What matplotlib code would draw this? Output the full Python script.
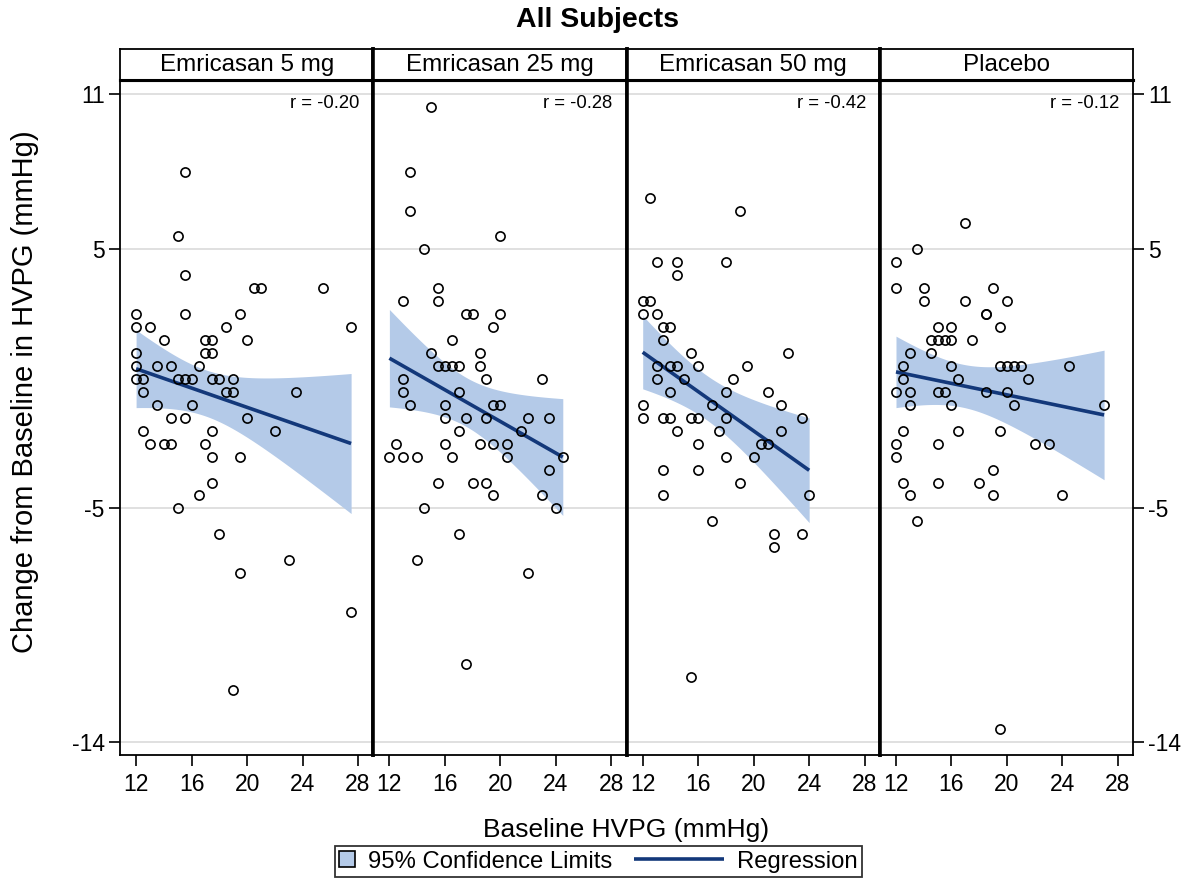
import numpy as np
import matplotlib
matplotlib.use("Agg")
import matplotlib.pyplot as plt
from matplotlib.patches import Patch, Rectangle
from matplotlib.lines import Line2D
from matplotlib.legend_handler import HandlerPatch, HandlerBase

plt.rcParams['font.family'] = ['Liberation Sans', 'DejaVu Sans']
plt.rcParams['axes.unicode_minus'] = False

# ---------------- data ----------------
panel_titles = ["Emricasan 5 mg", "Emricasan 25 mg", "Emricasan 50 mg", "Placebo"]
r_labels = ["r = -0.20", "r = -0.28", "r = -0.42", "r = -0.12"]

x_5mg = [15.5, 15.0, 15.5, 20.5, 21.0, 25.5, 12.0, 15.5, 19.5, 12.0, 13.0, 18.5, 27.5, 14.0, 17.0, 17.5,
         20.0, 12.0, 17.0, 17.5, 12.0, 13.5, 14.5, 16.5, 12.0, 12.5, 15.0, 15.5, 16.0, 17.5, 18.0, 19.0,
         12.5, 18.5, 19.0, 23.5, 13.5, 16.0, 14.5, 15.5, 20.0, 12.5, 17.5, 22.0, 13.0, 14.0, 14.5, 17.0,
         17.5, 19.5, 17.5, 16.5, 15.0, 18.0, 23.0, 19.5, 27.5, 19.0]
y_5mg = [8.0, 5.5, 4.0, 3.5, 3.5, 3.5, 2.5, 2.5, 2.5, 2.0, 2.0, 2.0, 2.0, 1.5, 1.5, 1.5,
         1.5, 1.0, 1.0, 1.0, 0.5, 0.5, 0.5, 0.5, 0.0, 0.0, 0.0, 0.0, 0.0, 0.0, 0.0, 0.0,
         -0.5, -0.5, -0.5, -0.5, -1.0, -1.0, -1.5, -1.5, -1.5, -2.0, -2.0, -2.0, -2.5, -2.5, -2.5, -2.5,
         -3.0, -3.0, -4.0, -4.5, -5.0, -6.0, -7.0, -7.5, -9.0, -12.0]

x_25mg = [15.0, 13.5, 13.5, 20.0, 14.5, 15.5, 13.0, 15.5, 17.5, 18.0, 20.0, 19.5, 16.5, 15.0, 18.5,
          15.5, 16.0, 16.5, 17.0, 18.5, 13.0, 19.0, 23.0, 13.0, 17.0, 13.5, 16.0, 19.5, 20.0, 16.0,
          17.5, 19.0, 22.0, 23.5, 17.0, 21.5, 12.5, 16.0, 18.5, 19.5, 20.5, 12.0, 13.0, 14.0, 16.5,
          20.5, 24.5, 23.5, 15.5, 18.0, 19.0, 19.5, 23.0, 14.5, 24.0, 17.0, 14.0, 22.0, 17.5]
y_25mg = [10.5, 8.0, 6.5, 5.5, 5.0, 3.5, 3.0, 3.0, 2.5, 2.5, 2.5, 2.0, 1.5, 1.0, 1.0,
          0.5, 0.5, 0.5, 0.5, 0.5, 0.0, 0.0, 0.0, -0.5, -0.5, -1.0, -1.0, -1.0, -1.0, -1.5,
          -1.5, -1.5, -1.5, -1.5, -2.0, -2.0, -2.5, -2.5, -2.5, -2.5, -2.5, -3.0, -3.0, -3.0, -3.0,
          -3.0, -3.0, -3.5, -4.0, -4.0, -4.0, -4.5, -4.5, -5.0, -5.0, -6.0, -7.0, -7.5, -11.0]

x_50mg = [12.5, 19.0, 13.0, 14.5, 18.0, 14.5, 12.0, 12.5, 12.0, 13.0, 13.5, 14.0, 13.5, 15.5, 22.5,
          13.0, 14.0, 14.5, 16.0, 19.5, 13.0, 15.0, 18.5, 14.0, 18.0, 21.0, 12.0, 17.0, 22.0, 12.0,
          13.5, 14.0, 15.5, 16.0, 18.0, 23.5, 14.5, 17.5, 22.0, 16.0, 20.5, 21.0, 18.0, 20.0, 13.5,
          16.0, 19.0, 13.5, 24.0, 17.0, 21.5, 23.5, 21.5, 15.5]
y_50mg = [7.0, 6.5, 4.5, 4.5, 4.5, 4.0, 3.0, 3.0, 2.5, 2.5, 2.0, 2.0, 1.5, 1.0, 1.0,
          0.5, 0.5, 0.5, 0.5, 0.5, 0.0, 0.0, 0.0, -0.5, -0.5, -0.5, -1.0, -1.0, -1.0, -1.5,
          -1.5, -1.5, -1.5, -1.5, -1.5, -1.5, -2.0, -2.0, -2.0, -2.5, -2.5, -2.5, -3.0, -3.0, -3.5,
          -3.5, -4.0, -4.5, -4.5, -5.5, -6.0, -6.0, -6.5, -11.5]

x_plc = [17.0, 13.5, 12.0, 12.0, 14.0, 19.0, 14.0, 17.0, 20.0, 18.5, 18.5, 15.0, 16.0, 19.5, 14.5,
         15.0, 15.5, 16.0, 17.5, 13.0, 14.5, 12.5, 16.0, 19.5, 20.0, 20.5, 21.0, 24.5, 12.5, 16.5,
         21.5, 12.0, 13.0, 15.0, 15.5, 18.5, 20.0, 13.0, 16.0, 20.5, 27.0, 12.5, 16.5, 19.5, 12.0,
         15.0, 22.0, 23.0, 12.0, 19.0, 12.5, 15.0, 18.0, 13.0, 19.0, 24.0, 13.5, 19.5]
y_plc = [6.0, 5.0, 4.5, 3.5, 3.5, 3.5, 3.0, 3.0, 3.0, 2.5, 2.5, 2.0, 2.0, 2.0, 1.5,
         1.5, 1.5, 1.5, 1.5, 1.0, 1.0, 0.5, 0.5, 0.5, 0.5, 0.5, 0.5, 0.5, 0.0, 0.0,
         0.0, -0.5, -0.5, -0.5, -0.5, -0.5, -0.5, -1.0, -1.0, -1.0, -1.0, -2.0, -2.0, -2.0, -2.5,
         -2.5, -2.5, -2.5, -3.0, -3.5, -4.0, -4.0, -4.0, -4.5, -4.5, -4.5, -5.5, -13.5]

xs_all = [x_5mg, x_25mg, x_50mg, x_plc]
ys_all = [y_5mg, y_25mg, y_50mg, y_plc]

x_ticks = [12, 16, 20, 24, 28]
y_ticks = [-14, -5, 5, 11]

# ---------------- style ----------------
BAND = '#b4cae8'
LINE = '#13387a'
W, H = 1195, 881


def fx(px):
    return px / W


def fy(py):
    return 1 - py / H


fig = plt.figure(figsize=(W / 100, H / 100), dpi=100)

left0 = 120
pw = 253.3
top_px, bot_px = 80, 755
head_top = 49

for i in range(4):
    ax = fig.add_axes([fx(left0 + i * pw), fy(bot_px), pw / W, (bot_px - top_px) / H])
    x = np.asarray(xs_all[i], float)
    y = np.asarray(ys_all[i], float)
    n = len(x)
    b, a = np.polyfit(x, y, 1)
    xg = np.linspace(x.min(), x.max(), 200)
    yhat = a + b * xg
    resid = y - (a + b * x)
    s = np.sqrt(np.sum(resid ** 2) / (n - 2))
    sxx = np.sum((x - x.mean()) ** 2)
    se = s * np.sqrt(1.0 / n + (xg - x.mean()) ** 2 / sxx)
    tval = 2.005
    ax.fill_between(xg, yhat - tval * se, yhat + tval * se, color=BAND, lw=0, zorder=1)
    ax.plot(xg, yhat, color=LINE, lw=2.6, zorder=2, solid_capstyle='butt')
    ax.plot(x, y, 'o', mfc='none', mec='black', ms=6.6, mew=1.2, zorder=3)

    ax.set_xlim(10.84, 29.1)
    ax.set_ylim(-14.52, 11.54)
    ax.set_xticks(x_ticks)
    ax.set_yticks(y_ticks)
    ax.yaxis.grid(True, color='#dddddd', lw=1.3, zorder=0)
    ax.set_axisbelow(True)
    ax.tick_params(axis='x', direction='out', length=8, width=1.2, labelsize=16.5, pad=5)
    ax.tick_params(axis='y', direction='out', length=8, width=1.2, labelsize=16.5, pad=3)
    if i == 0:
        ax.tick_params(axis='y', left=True, labelleft=True, right=False, labelright=False)
    elif i == 3:
        ax.tick_params(axis='y', left=False, labelleft=False, right=True, labelright=True)
    else:
        ax.tick_params(axis='y', left=False, labelleft=False, right=False, labelright=False)
    for side in ['top', 'bottom', 'left', 'right']:
        ax.spines[side].set_linewidth(1.3)
    if i > 0:
        ax.spines['left'].set_linewidth(2.6)
    if i < 3:
        ax.spines['right'].set_linewidth(2.6)
    ax.spines['top'].set_linewidth(2.2)

    ax.text(0.945, 0.978, r_labels[i], transform=ax.transAxes, ha='right', va='top', fontsize=13.3)

    # header strip
    hx = fig.add_axes([fx(left0 + i * pw), fy(top_px), pw / W, (top_px - head_top) / H])
    hx.set_xticks([])
    hx.set_yticks([])
    for side in ['top', 'bottom', 'left', 'right']:
        hx.spines[side].set_linewidth(1.3)
    hx.spines['bottom'].set_linewidth(2.2)
    if i > 0:
        hx.spines['left'].set_linewidth(2.6)
    if i < 3:
        hx.spines['right'].set_linewidth(2.6)
    hx.text(0.5, 0.47, panel_titles[i], transform=hx.transAxes, ha='center', va='center', fontsize=17.4)

fig.text(fx(598), fy(20), 'All Subjects', fontsize=20.5, fontweight='bold', ha='center', va='center')
fig.text(fx(25), fy(392), 'Change from Baseline in HVPG (mmHg)', rotation=90, fontsize=21,
         ha='center', va='center')
fig.text(fx(626), fy(830), 'Baseline HVPG (mmHg)', fontsize=19, ha='center', va='center')


# legend: small square for the band, long line for the regression
def square_patch(legend, orig_handle, xdescent, ydescent, width, height, fontsize):
    side = width
    return Rectangle((-xdescent, -ydescent + (height - side) / 2.0), side, side)


class HandlerLongLine(HandlerBase):
    def __init__(self, extra, **kw):
        super().__init__(**kw)
        self.extra = extra

    def create_artists(self, legend, orig_handle, xdescent, ydescent, width, height, fontsize, trans):
        yc = height / 2.0 - ydescent
        ln = Line2D([-xdescent - self.extra, -xdescent + width], [yc, yc],
                    color=orig_handle.get_color(), lw=orig_handle.get_linewidth(),
                    solid_capstyle='butt')
        ln.set_transform(trans)
        return [ln]


band_handle = Patch(facecolor=BAND, edgecolor='black', lw=1.2)
line_handle = Line2D([0], [0], color=LINE, lw=2.6)
leg = fig.legend([band_handle, line_handle], ['95% Confidence Limits', 'Regression'], loc='center',
                 bbox_to_anchor=(fx(598.5), fy(861.5)), ncol=2, frameon=True, fancybox=False,
                 edgecolor='black', fontsize=17.2, handlelength=0.68, handleheight=0.75,
                 columnspacing=4.0, borderpad=0.18, handletextpad=0.55, borderaxespad=0,
                 handler_map={Patch: HandlerPatch(patch_func=square_patch),
                              Line2D: HandlerLongLine(extra=53)})
leg.get_frame().set_linewidth(1.3)

fig.savefig('out.png', dpi=100)
